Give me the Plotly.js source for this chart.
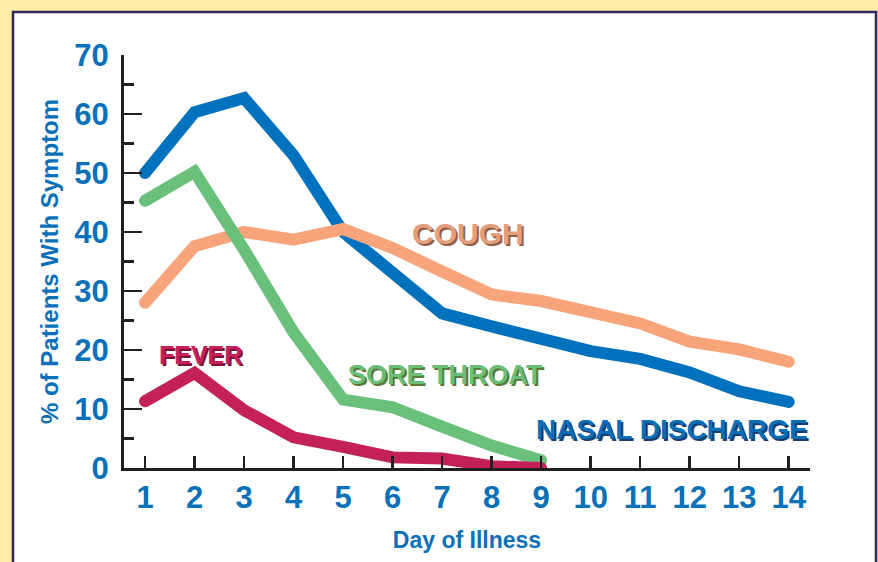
<!DOCTYPE html>
<html>
<head>
<meta charset="utf-8">
<script src="https://cdn.plot.ly/plotly-3.0.1.min.js"></script>
<style>
html,body{margin:0;padding:0;background:#FFEDA8;}
#chart{width:878px;height:562px;}
.scatterlayer .js-line{stroke-linecap:round;}
</style>
</head>
<body>
<div id="chart"></div>
<script>
// ---- data ----
const days = [1,2,3,4,5,6,7,8,9,10,11,12,13,14];
const nasalDischarge = [50,60.3,62.7,53,40,33,26.2,24,21.8,19.8,18.5,16.2,13,11.2];
const cough = [28,37.6,40,38.7,40.5,37.3,33.3,29.4,28.3,26.4,24.5,21.4,20.1,18];
const soreThroatDays = [1,2,3,4,5,6,7,8,9];
const soreThroat = [45.3,50.2,37,23,11.6,10.3,7,3.8,1.3];
const feverDays = [1,2,3,4,5,6,7,8,9];
const fever = [11.3,16.1,9.8,5.2,3.6,1.8,1.6,0.3,0];
const yTicks = [0,10,20,30,40,50,60,70];
const xTicks = days;
const seriesNames = ["NASAL DISCHARGE","COUGH","SORE THROAT","FEVER"];
const labelX = [11.65, 7.53, 7.06, 2.12];
const labelY = [6.6, 39.7, 15.8, 19.2];

// ---- styling ----
const colors = ["#0071BC","#F8A47A","#68C07A","#C4215A"];
const labelColors = ["#0A6FB8","#E59E7C","#69BE78","#C4215A"];
const shadowColors = ["#1B3C6E","#8E6049","#5A7A38","#7A1236"];
const labelSizes = [28, 30, 27, 25];
const axisDark = "#231F20";
const blue = "#0A70B8";
const fontFam = "'Liberation Sans', Arial, sans-serif";

const traces = [
  {x: days, y: nasalDischarge, name: seriesNames[0]},
  {x: days, y: cough, name: seriesNames[1]},
  {x: soreThroatDays, y: soreThroat, name: seriesNames[2]},
  {x: feverDays, y: fever, name: seriesNames[3]}
].map((t, i) => Object.assign(t, {
  type: "scatter", mode: "lines", line: {color: colors[i], width: 12},
  hoverinfo: "skip", cliponaxis: false
}));

const annotations = seriesNames.map((n, i) => ({
  x: labelX[i], y: labelY[i], xref: "x", yref: "y", text: n, showarrow: false,
  xanchor: "center", yanchor: "middle",
  font: {family: fontFam, size: labelSizes[i], color: labelColors[i], weight: "bold",
         shadow: "2px 2px 0px " + shadowColors[i]}
}));

const L = 124, R = 810, T = 55, B = 468, W = 878, H = 562;
const px = v => (v - L) / (R - L);
const py = v => (B - v) / (B - T);

const layout = {
  width: W, height: H,
  margin: {l: L, r: W - R, t: T, b: H - B, pad: 0},
  paper_bgcolor: "#FFEDA8",
  plot_bgcolor: "rgba(0,0,0,0)",
  showlegend: false,
  shapes: [{type: "rect", xref: "paper", yref: "paper", layer: "below",
    x0: px(13), x1: px(876), y0: py(575), y1: py(12),
    fillcolor: "#FFFFFF", line: {color: "#2E2A5E", width: 2.5}}],
  xaxis: {
    range: [0.575, 14.43], tickvals: xTicks, ticktext: xTicks.map(String),
    showgrid: false, zeroline: false, showline: true, linecolor: axisDark, linewidth: 3,
    ticks: "inside", ticklen: 12, tickwidth: 2.5, tickcolor: axisDark,
    ticklabelstandoff: 0,
    tickfont: {family: fontFam, size: 31, color: blue, weight: "bold"},
    title: {text: "Day of Illness", font: {family: fontFam, size: 23, color: blue, weight: "bold"}, standoff: 18},
    fixedrange: true
  },
  yaxis: {
    range: [0, 70], tickvals: yTicks, ticktext: yTicks.map(String),
    showgrid: false, zeroline: false, showline: true, linecolor: axisDark, linewidth: 3,
    ticks: "inside", ticklen: 18, tickwidth: 2.5, tickcolor: axisDark,
    minor: {ticks: "inside", ticklen: 10, tickwidth: 2.5, tickcolor: axisDark, dtick: 5, tick0: 0, showgrid: false},
    ticklabelstandoff: 6,
    tickfont: {family: fontFam, size: 31, color: blue, weight: "bold"},
    title: {text: "% of Patients With Symptom", font: {family: fontFam, size: 24, color: blue, weight: "bold"}, standoff: 9},
    fixedrange: true
  },
  annotations: annotations
};

Plotly.newPlot("chart", traces, layout, {displayModeBar: false, staticPlot: true});
</script>
</body>
</html>
